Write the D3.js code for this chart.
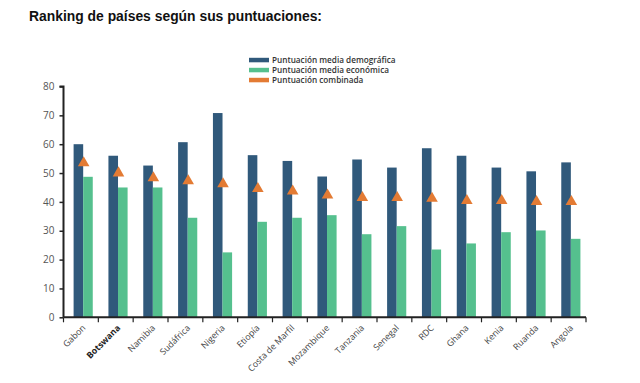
<!DOCTYPE html>
<html><head><meta charset="utf-8">
<script src="https://cdn.jsdelivr.net/npm/d3@7"></script>
<style>body{margin:0;background:#fff}svg{display:block}</style>
</head><body>
<script>
const countries = ["Gabon","Botswana","Namibia","Sudáfrica","Nigeria","Etiopía","Costa de Marfil","Mozambique","Tanzania","Senegal","RDC","Ghana","Kenia","Ruanda","Angola"];
const demografica = [60,56,52.6,60.7,70.8,56.2,54.2,48.8,54.7,51.9,58.6,56,51.9,50.6,53.7];
const economica = [48.7,45,45,34.5,22.5,33.1,34.5,35.4,28.8,31.6,23.5,25.6,29.5,30.1,27.2];
const combinada = [53.5,50,48.3,47.3,46.2,44.6,43.7,42.3,41.5,41.5,41.2,40.4,40.4,40.1,40.1];
const seriesNames = ["Puntuación media demográfica","Puntuación media económica","Puntuación combinada"];
const colors = ["#30597b","#55c08e","#e37b34"];
const yTicks = [0,10,20,30,40,50,60,70,80];

const W=640,H=383;
const svg=d3.select("body").append("svg").attr("width",W).attr("height",H);

svg.append("text").attr("x",29).attr("y",21)
  .attr("font-family","'Liberation Sans',Arial,sans-serif")
  .attr("font-weight","bold").attr("font-size",14).attr("fill","#111")
  .attr("textLength",293).attr("lengthAdjust","spacingAndGlyphs")
  .text("Ranking de países según sus puntuaciones:");

const x=d3.scaleBand().domain(countries).range([63.5,586]).padding(0);
const sub=d3.scaleBand().domain([0,1]).range([x.bandwidth()*0.29,x.bandwidth()*0.84]).padding(0);
const y=d3.scaleLinear().domain([0,80]).range([317.3,86.5]);

const g=svg.append("g");
countries.forEach((c,i)=>{
  g.append("rect").attr("x",x(c)+sub(0)).attr("y",y(demografica[i]))
    .attr("width",sub.bandwidth()).attr("height",y(0)-y(demografica[i])).attr("fill",colors[0]);
  g.append("rect").attr("x",x(c)+sub(1)).attr("y",y(economica[i]))
    .attr("width",sub.bandwidth()).attr("height",y(0)-y(economica[i])).attr("fill",colors[1]);
});
const tri=d3.symbol().type(d3.symbolTriangle).size(58);
countries.forEach((c,i)=>{
  g.append("path").attr("d",tri())
    .attr("transform",`translate(${x(c)+sub(1)+0.5},${y(combinada[i])})`)
    .attr("fill",colors[2]);
});

// y axis
const ya=svg.append("g").attr("transform","translate(63.5,0)")
  .call(d3.axisLeft(y).tickValues(yTicks).tickSize(4).tickPadding(5));
ya.select(".domain").attr("stroke","#222").attr("stroke-width",2).attr("d",`M-4,${y(80)}H0V${y(0)}`);
ya.selectAll(".tick line").attr("stroke","#222").attr("stroke-width",1.5);
ya.selectAll(".tick text").attr("font-family","'Open Sans','Liberation Sans',sans-serif")
  .attr("font-size",10).attr("fill","#555");

// x axis
const xa=svg.append("g").attr("transform",`translate(0,${y(0)})`)
  .call(d3.axisBottom(x).tickSize(0).tickFormat(""));
xa.select(".domain").attr("stroke","#222").attr("stroke-width",2).attr("d",`M63.5,0H586`);
const bounds=countries.map(c=>x(c)).concat([x.range()[1]]);
xa.selectAll(".bt").data(bounds).enter().append("line").attr("class","bt")
  .attr("x1",d=>d).attr("x2",d=>d).attr("y1",0).attr("y2",5).attr("stroke","#222").attr("stroke-width",1.2);
xa.selectAll(".lbl").data(countries).enter().append("text").attr("class","lbl")
  .attr("transform",d=>`translate(${x(d)+x.bandwidth()/2+3},9) rotate(-45)`)
  .attr("text-anchor","end").attr("dy","0.35em")
  .attr("font-family","'Open Sans','Liberation Sans',sans-serif").attr("font-size",8.8)
  .attr("font-weight",d=>d==="Botswana"?"bold":"normal")
  .attr("fill",d=>d==="Botswana"?"#222":"#444").text(d=>d);

// legend
const lg=svg.append("g").attr("transform","translate(249,60)");
seriesNames.forEach((n,i)=>{
  lg.append("rect").attr("x",0).attr("y",i*10-2.2).attr("width",20).attr("height",4.5).attr("fill",colors[i]);
  lg.append("text").attr("x",23).attr("y",i*10).attr("dy","0.35em")
    .attr("font-family","'Open Sans','Liberation Sans',sans-serif").attr("font-weight",600)
    .attr("font-size",8.2).attr("fill","#333")
    .text(n);
});
</script>
</body></html>
